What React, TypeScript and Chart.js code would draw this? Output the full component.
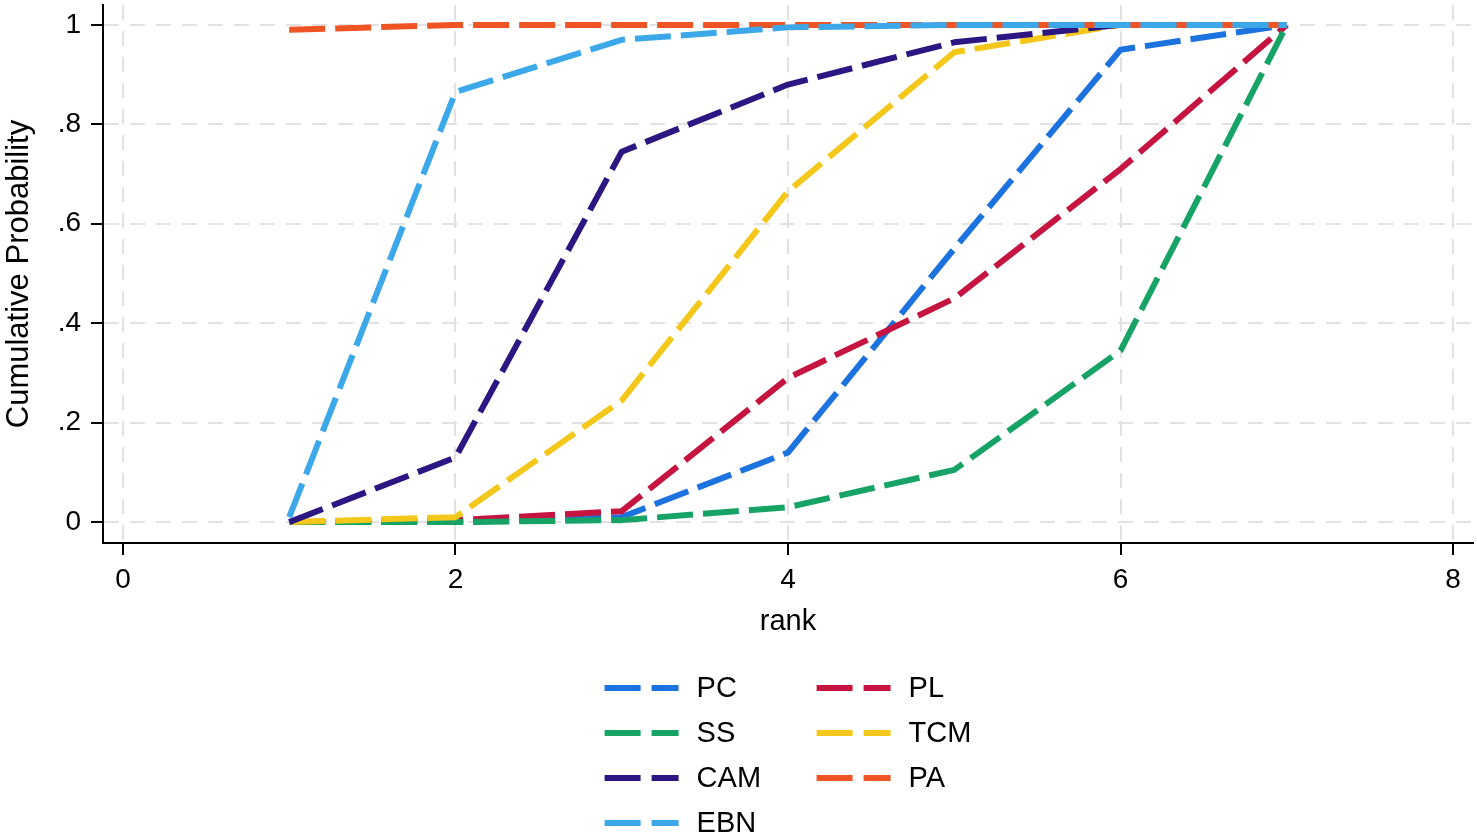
import { useEffect, useRef } from 'react';
import { Chart, registerables } from 'chart.js';

Chart.register(...registerables);

// rank on the x axis, cumulative probability per treatment
const ranks = [1, 2, 3, 4, 5, 6, 7];
const seriesNames = ['PC', 'PL', 'SS', 'TCM', 'CAM', 'PA', 'EBN'];
const pc = [0, 0, 0.01, 0.14, 0.55, 0.95, 1];
const pl = [0, 0.004, 0.022, 0.29, 0.45, 0.71, 1];
const ss = [0, 0, 0.004, 0.03, 0.105, 0.345, 1];
const tcm = [0, 0.01, 0.245, 0.665, 0.945, 1, 1];
const cam = [0, 0.13, 0.745, 0.88, 0.965, 1, 1];
const pa = [0.99, 1, 1, 1, 1, 1, 1];
const ebn = [0.01, 0.865, 0.97, 0.995, 1, 1, 1];
const seriesValues = [pc, pl, ss, tcm, cam, pa, ebn];
const seriesColors = ['#1c72de', '#c5143f', '#17a366', '#f4c81a', '#2b1682', '#ee5424', '#3ca8ea'];

const xTicks = [0, 2, 4, 6, 8];
const yTicks = [0, 0.2, 0.4, 0.6, 0.8, 1];
const yTickLabels = ['0', '.2', '.4', '.6', '.8', '1'];

const FONT = '"Liberation Sans", Arial, Helvetica, sans-serif';

// two-column legend under the plot, like Stata's cols(2)
const stataLegend = {
  id: 'stataLegend',
  afterDraw(chart: any) {
    const { ctx, chartArea } = chart;
    const sets = chart.data.datasets;
    const sampleLen = 74;
    const textGap = 18;
    const colStep = 212;
    const rowStep = 45;
    ctx.save();
    ctx.font = `29px ${FONT}`;
    const col2W = Math.max(
      ...sets.filter((_: any, i: number) => i % 2 === 1).map((d: any) => ctx.measureText(d.label).width)
    );
    const totalW = colStep + sampleLen + textGap + col2W;
    const x0 = (chartArea.left + chartArea.right) / 2 - totalW / 2;
    const y0 = chartArea.bottom + 145;
    sets.forEach((ds: any, i: number) => {
      const x = x0 + (i % 2) * colStep;
      const y = y0 + Math.floor(i / 2) * rowStep;
      ctx.strokeStyle = ds.borderColor;
      ctx.lineWidth = 6;
      ctx.lineCap = 'butt';
      ctx.setLineDash([36, 11]);
      ctx.beginPath();
      ctx.moveTo(x, y);
      ctx.lineTo(x + sampleLen, y);
      ctx.stroke();
      ctx.setLineDash([]);
      ctx.fillStyle = '#000';
      ctx.textAlign = 'left';
      ctx.textBaseline = 'middle';
      ctx.fillText(ds.label, x + sampleLen + textGap, y + 1);
    });
    ctx.restore();
  },
};

export default function App() {
  const canvasRef = useRef<HTMLCanvasElement>(null);

  useEffect(() => {
    document.body.style.margin = '0';
    const canvas = canvasRef.current;
    if (!canvas) return;

    const chart = new Chart(canvas, {
      type: 'line',
      data: {
        datasets: seriesNames.map((name, i) => ({
          label: name,
          data: ranks.map((r, j) => ({ x: r, y: seriesValues[i][j] })),
          borderColor: seriesColors[i],
          backgroundColor: seriesColors[i],
          borderWidth: 6,
          borderDash: [36, 10],
          borderCapStyle: 'butt' as const,
          borderJoinStyle: 'round' as const,
          pointRadius: 0,
          tension: 0,
          fill: false,
          order: seriesNames.length - i,
        })),
      },
      options: {
        animation: false,
        responsive: true,
        maintainAspectRatio: false,
        layout: { padding: { top: 5, right: 4, left: 0, bottom: 198 } },
        plugins: {
          legend: { display: false },
          tooltip: { enabled: false },
        },
        scales: {
          x: {
            type: 'linear',
            min: -0.12,
            max: 8.12,
            afterBuildTicks: (scale: any) => {
              scale.ticks = xTicks.map((v) => ({ value: v }));
            },
            afterFit: (scale: any) => {
              scale.height = 96;
              scale.paddingLeft = 0;
              scale.paddingRight = 0;
            },
            ticks: {
              color: '#000',
              font: { family: FONT, size: 28 },
              padding: 8,
              maxRotation: 0,
            },
            grid: {
              color: '#e2e2e2',
              lineWidth: 2,
              tickColor: '#000',
              tickWidth: 2,
              tickLength: 12,
            },
            border: { display: true, color: '#000', width: 2, dash: [15, 11] },
            title: {
              display: true,
              text: 'rank',
              color: '#000',
              font: { family: FONT, size: 29 },
              padding: 0,
            },
          },
          y: {
            type: 'linear',
            min: -0.042,
            max: 1.04,
            afterBuildTicks: (scale: any) => {
              scale.ticks = yTicks.map((v) => ({ value: v }));
            },
            afterFit: (scale: any) => {
              scale.width = 103;
              scale.paddingTop = 0;
              scale.paddingBottom = 0;
            },
            ticks: {
              color: '#000',
              font: { family: FONT, size: 28 },
              padding: 10,
              callback: (_v: any, index: number) => yTickLabels[index],
            },
            grid: {
              color: '#e2e2e2',
              lineWidth: 2,
              tickColor: '#000',
              tickWidth: 2,
              tickLength: 12,
            },
            border: { display: true, color: '#000', width: 2, dash: [15, 11] },
            title: {
              display: true,
              text: 'Cumulative Probability',
              color: '#000',
              font: { family: FONT, size: 31 },
              padding: { top: 1, bottom: 0 },
            },
          },
        },
      },
      plugins: [stataLegend],
    });

    return () => {
      chart.destroy();
    };
  }, []);

  return (
    <div style={{ position: 'relative', width: '1477px', height: '837px', background: '#fff' }}>
      <canvas ref={canvasRef}></canvas>
    </div>
  );
}
